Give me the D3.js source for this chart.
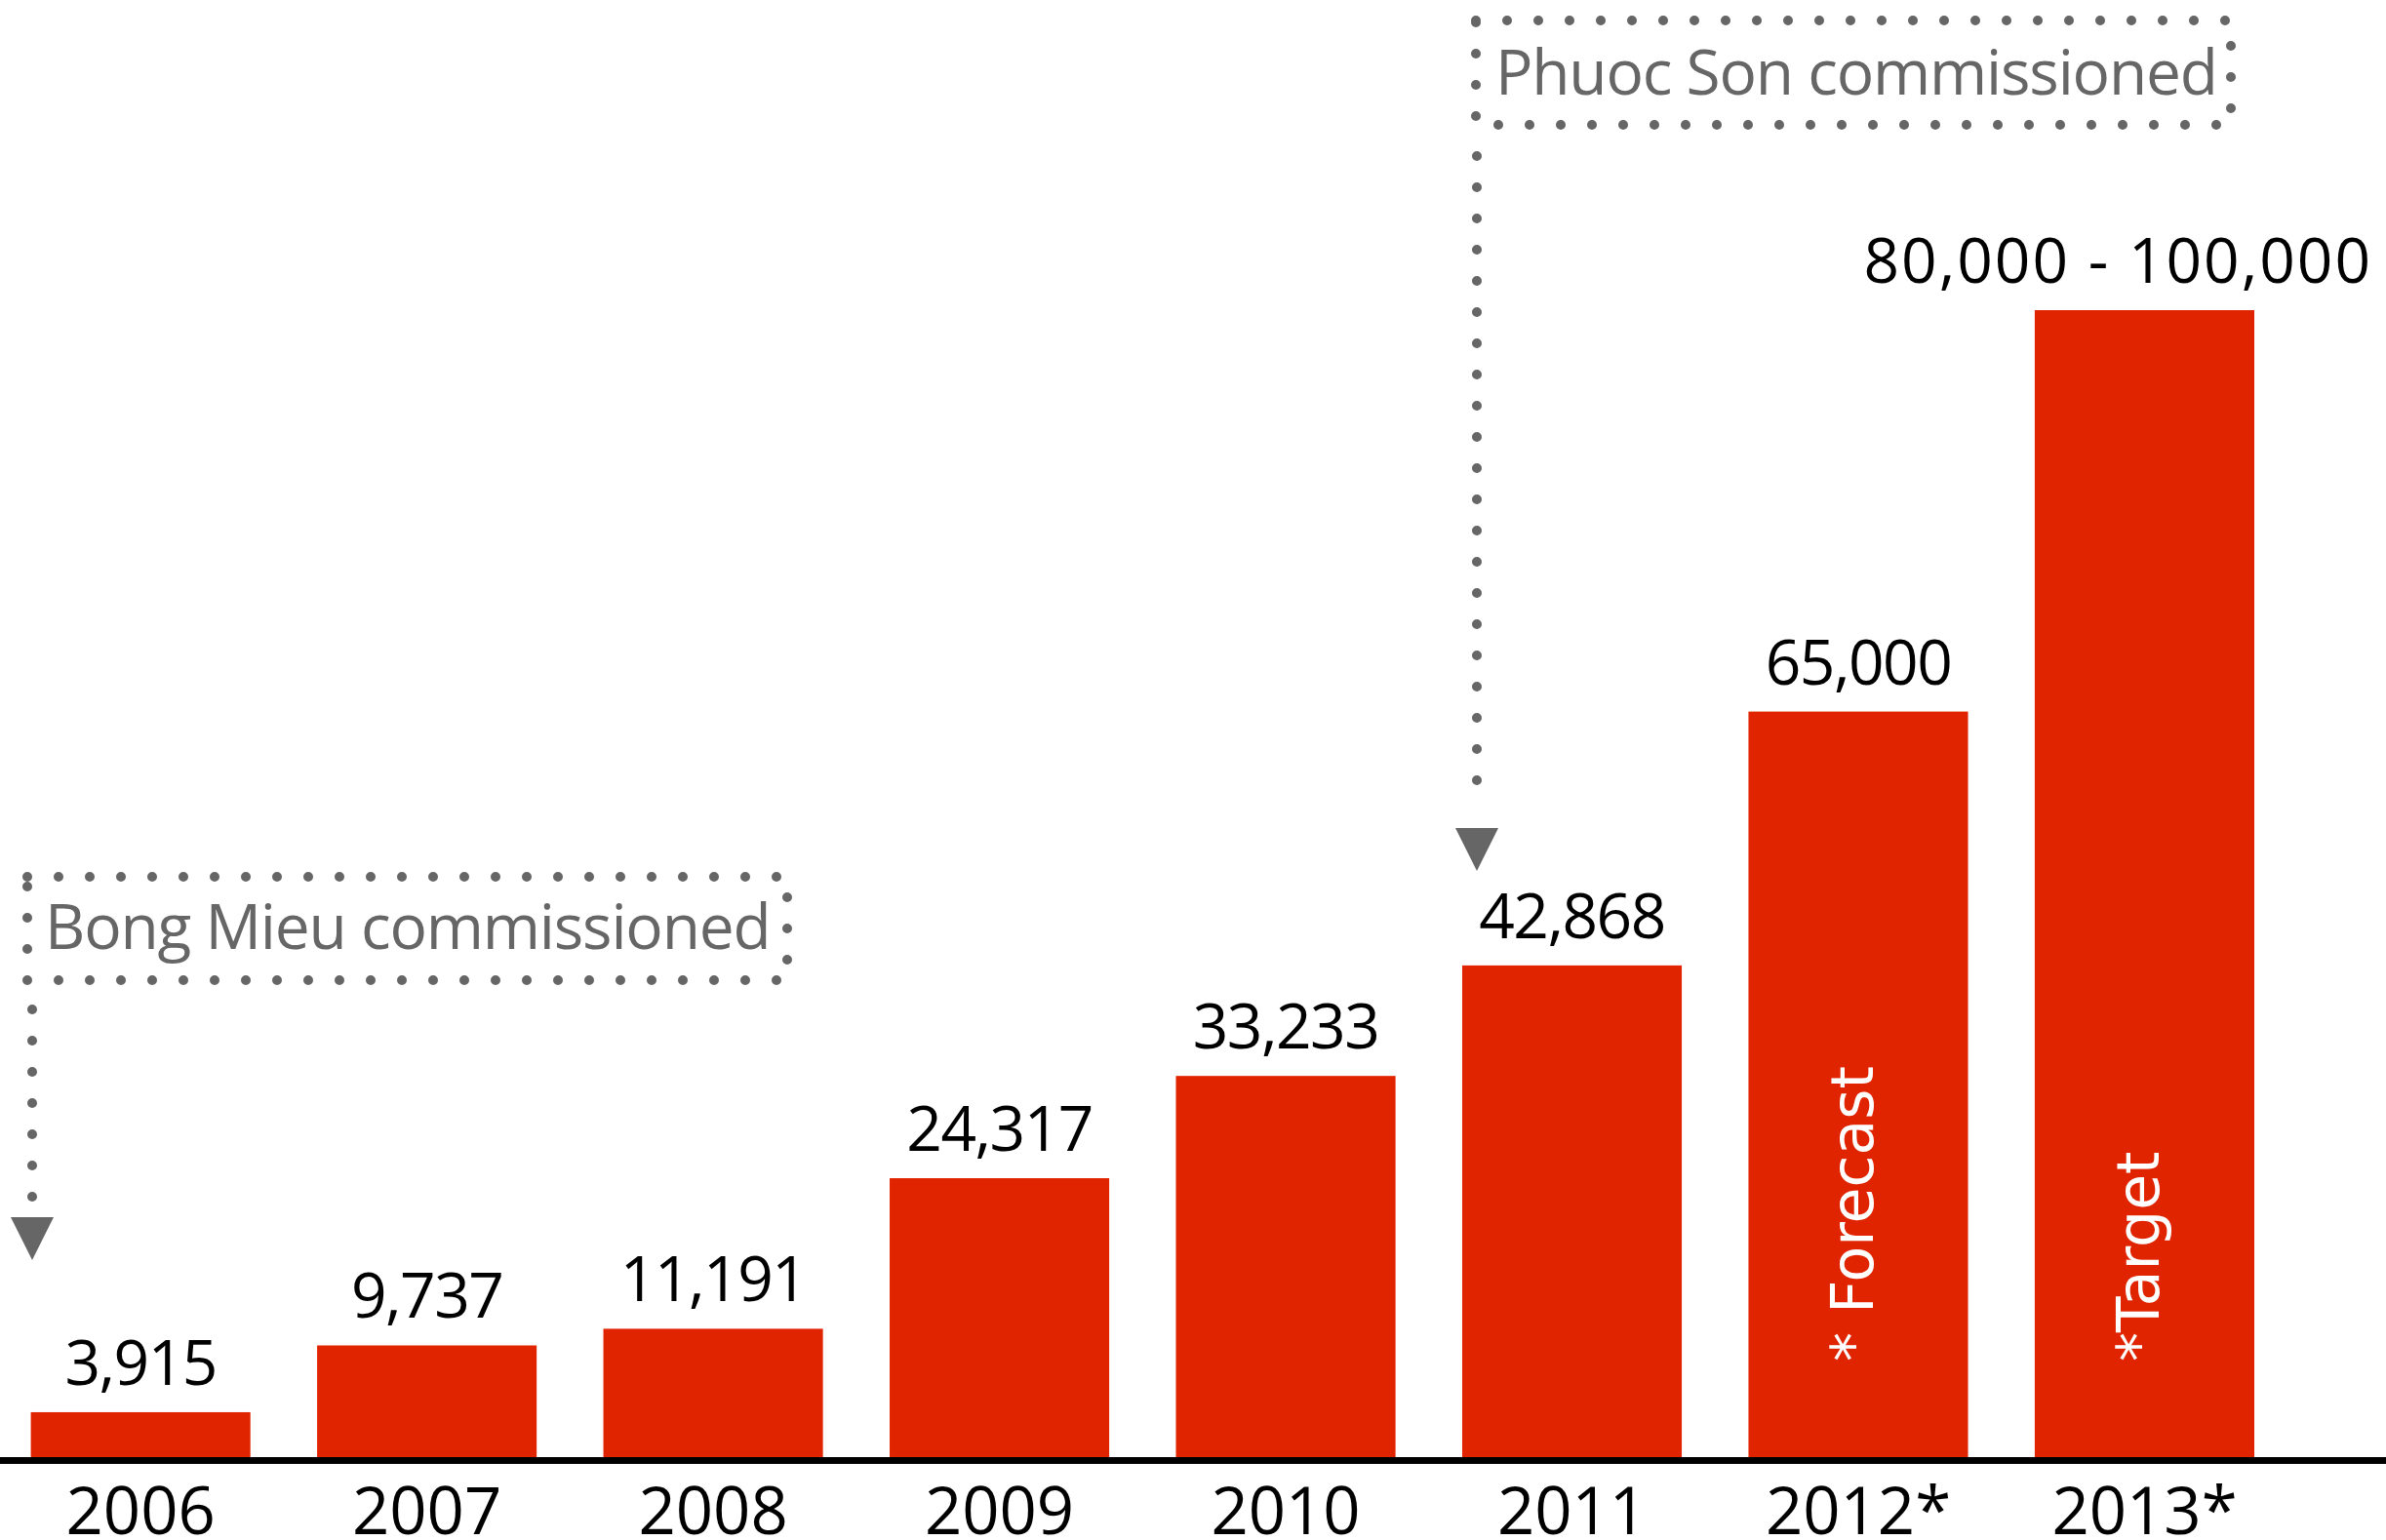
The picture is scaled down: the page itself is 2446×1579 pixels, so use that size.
<!DOCTYPE html>
<html>
<head>
<meta charset="utf-8">
<script src="https://cdn.jsdelivr.net/npm/d3@7"></script>
<style>
    body { margin: 0; background: #fff; }
    .value { font-family: "Open Sans", sans-serif; font-size: 64px; fill: #000; letter-spacing: -1.5px; }
    .value.wide { letter-spacing: 2px; }
    .xAxis text { font-family: "Open Sans", sans-serif; font-size: 67px; fill: #000; }
    .note { font-family: "Open Sans", sans-serif; font-size: 64px; fill: #666; letter-spacing: -1.2px; }
    .inBar { font-family: "DejaVu Sans", sans-serif; font-size: 60px; fill: #fff; }
</style>
</head>
<body>
<div class="chart"></div>
<script>

// Gold production per year (oz)
var years = ["2006", "2007", "2008", "2009", "2010", "2011", "2012", "2013"];
var tickLabels = ["2006", "2007", "2008", "2009", "2010", "2011", "2012*", "2013*"];
var production = [3915, 9737, 11191, 24317, 33233, 42868, 65000, 100000];
var valueLabels = ["3,915", "9,737", "11,191", "24,317", "33,233", "42,868", "65,000", "80,000 - 100,000"];

// Notes written inside the last two bars
var barNoteYears = ["2012", "2013"];
var barNotes = ["* Forecast", "*Target"];

// Mine commissioning callouts
var calloutTexts = ["Bong Mieu commissioned", "Phuoc Son commissioned"];

var width = 2446,
    height = 1579;

var svg = d3.select(".chart")
    .append("svg")
        .attr("width", width)
        .attr("height", height);

// Scales
var x = d3.scaleBand()
    .domain(years)
    .range([31.6, 2311])
    .paddingInner(0.233)
    .paddingOuter(0);

var y = d3.scaleLinear()
    .domain([0, 100000])
    .range([1494, 318]);

// Bars
svg.selectAll(".bar")
    .data(production)
    .enter().append("rect")
        .attr("class", "bar")
        .attr("x", function(d, i) { return x(years[i]); })
        .attr("y", function(d) { return y(d); })
        .attr("width", x.bandwidth())
        .attr("height", function(d) { return y(0) - y(d); })
        .style("fill", "#e12400");

// Value labels above bars (keep the wide last one inside the picture)
svg.selectAll(".value")
    .data(production)
    .enter().append("text")
        .attr("class", function(d, i) { return i === production.length - 1 ? "value wide" : "value"; })
        .attr("text-anchor", "middle")
        .attr("y", function(d) { return y(d) - 28; })
        .text(function(d, i) { return valueLabels[i]; })
        .attr("x", function(d, i) {
            var cx = x(years[i]) + x.bandwidth() / 2;
            var half = this.getComputedTextLength() / 2;
            return Math.min(cx, width - 14 - half);
        });

// Baseline across the full width
svg.append("line")
    .attr("x1", 0)
    .attr("x2", width)
    .attr("y1", y(0) + 3.5)
    .attr("y2", y(0) + 3.5)
    .style("stroke", "#000")
    .style("stroke-width", 7);

// Year axis
var xAxis = d3.axisBottom(x)
    .tickSize(0)
    .tickPadding(31)
    .tickFormat(function(d, i) { return tickLabels[i]; });

svg.append("g")
    .attr("class", "xAxis")
    .attr("transform", "translate(0," + y(0) + ")")
    .call(xAxis)
    .call(function(g) { g.select(".domain").remove(); });

// Rotated notes inside the forecast / target bars
svg.selectAll(".inBar")
    .data(barNotes)
    .enter().append("text")
        .attr("class", "inBar")
        .attr("transform", function(d, i) {
            var cx = x(barNoteYears[i]) + x.bandwidth() / 2;
            return "translate(" + cx + ",1396) rotate(-90)";
        })
        .attr("dy", "0.25em")
        .text(function(d) { return d; });

// Dotted callout boxes with arrows
var callouts = [
    { box: [28, 899, 807, 1005], textX: 46, textY: 973, lineX: 33, lineTop: 1035, lineBottom: 1230, arrowTop: 1248 },
    { box: [1513, 21, 2287, 128], textX: 1533, textY: 97, lineX: 1514, lineTop: 160, lineBottom: 830, arrowTop: 849 }
];

var dots = { stroke: "#666", width: 10, dash: "0 32" };

callouts.forEach(function(c, i) {
    var g = svg.append("g").attr("class", "callout");

    g.append("rect")
        .attr("x", c.box[0])
        .attr("y", c.box[1])
        .attr("width", c.box[2] - c.box[0])
        .attr("height", c.box[3] - c.box[1])
        .style("fill", "none")
        .style("stroke", dots.stroke)
        .style("stroke-width", dots.width)
        .style("stroke-linecap", "round")
        .style("stroke-dasharray", dots.dash);

    g.append("text")
        .attr("class", "note")
        .attr("x", c.textX)
        .attr("y", c.textY)
        .text(calloutTexts[i]);

    g.append("line")
        .attr("x1", c.lineX)
        .attr("x2", c.lineX)
        .attr("y1", c.lineTop)
        .attr("y2", c.lineBottom)
        .style("stroke", dots.stroke)
        .style("stroke-width", dots.width)
        .style("stroke-linecap", "round")
        .style("stroke-dasharray", dots.dash);

    var a = c.arrowTop;
    g.append("path")
        .attr("d", "M" + (c.lineX - 22) + "," + a + "L" + (c.lineX + 22) + "," + a + "L" + c.lineX + "," + (a + 44) + "Z")
        .style("fill", "#666");
});

</script>
</body>
</html>
